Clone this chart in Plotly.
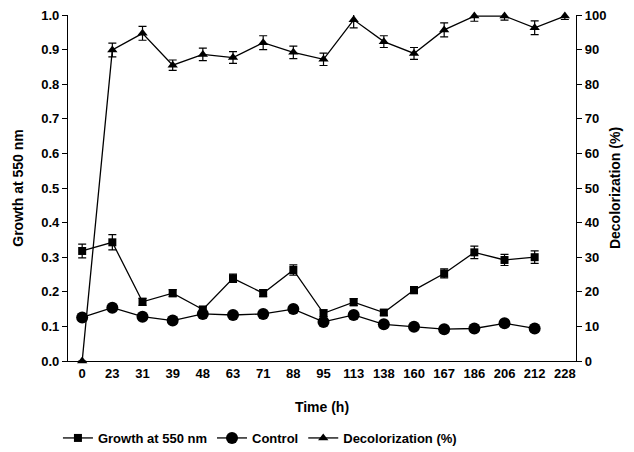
import plotly.graph_objects as go

time_labels = ["0", "23", "31", "39", "48", "63", "71", "88", "95", "113", "138",
               "160", "167", "186", "206", "212", "228"]

growth = [0.318, 0.343, 0.171, 0.196, 0.149, 0.239, 0.196, 0.263, 0.138, 0.170,
          0.140, 0.205, 0.253, 0.314, 0.292, 0.300]
growth_err = [0.020, 0.022, 0.010, 0.010, 0.008, 0.012, 0.010, 0.015, 0.010, 0.010,
              0.008, 0.010, 0.013, 0.018, 0.016, 0.018]

control = [0.126, 0.154, 0.128, 0.117, 0.136, 0.133, 0.136, 0.150, 0.113, 0.133,
           0.106, 0.099, 0.092, 0.094, 0.109, 0.094]
control_err = [0.004] * 16

decol = [0, 89.9, 94.7, 85.5, 88.6, 87.7, 92.0, 89.2, 87.2, 98.6, 92.3, 88.9,
         95.7, 99.7, 99.7, 96.3, 99.7]
decol_err = [0, 2.0, 2.0, 1.5, 1.8, 1.7, 2.0, 1.8, 1.8, 2.3, 1.7, 1.7, 2.0, 1.5,
             1.2, 2.0, 1.0]

FONT = "Liberation Sans, Arial, sans-serif"
xs = list(range(len(time_labels)))

fig = go.Figure()
fig.add_trace(go.Scatter(
    x=xs[:len(growth)], y=growth, name="Growth at 550 nm", mode="lines+markers",
    line=dict(color="black", width=1.3), cliponaxis=False,
    marker=dict(symbol="square", size=8, color="black"),
    error_y=dict(type="data", array=growth_err, color="black", thickness=1.2, width=4),
))
fig.add_trace(go.Scatter(
    x=xs[:len(control)], y=control, name="Control", mode="lines+markers",
    line=dict(color="black", width=1.3), cliponaxis=False,
    marker=dict(symbol="circle", size=12, color="black"),
    error_y=dict(type="data", array=control_err, color="black", thickness=1.2, width=4),
))
fig.add_trace(go.Scatter(
    x=xs[:len(decol)], y=decol, name="Decolorization (%)", mode="lines+markers",
    yaxis="y2", cliponaxis=False,
    line=dict(color="black", width=1.3),
    marker=dict(symbol="triangle-up", size=9, color="black"),
    error_y=dict(type="data", array=decol_err, color="black", thickness=1.2, width=4),
))

axis_font = dict(family=FONT, size=13, color="black", weight="bold")
title_font = dict(family=FONT, size=14, color="black", weight="bold")

fig.update_layout(
    width=634, height=452,
    margin=dict(l=68, r=58, t=15, b=91, autoexpand=False),
    paper_bgcolor="white", plot_bgcolor="white",
    showlegend=True,
    legend=dict(orientation="h", x=0.41, xanchor="center", xref="container",
                y=0.031, yanchor="middle", yref="container",
                font=dict(family=FONT, size=13, color="black", weight="bold"),
                itemwidth=30, tracegroupgap=0),
    xaxis=dict(
        tickmode="array", tickvals=xs, ticktext=time_labels, automargin=False,
        range=[-0.47, 16.37], showgrid=False, zeroline=False,
        showline=True, linecolor="black", linewidth=1.3, ticks="",
        tickfont=axis_font,
        title=dict(text="Time (h)", font=title_font, standoff=22),
    ),
    yaxis=dict(
        range=[0, 1.0], tickvals=[i / 10 for i in range(11)], automargin=False,
        ticktext=[f"{i/10:.1f}" for i in range(11)],
        showgrid=False, zeroline=False, showline=True, linecolor="black", linewidth=1.3,
        ticks="outside", ticklen=5, tickcolor="black", tickwidth=1.3,
        tickfont=axis_font,
        title=dict(text="Growth at 550 nm", font=title_font, standoff=14),
    ),
    yaxis2=dict(
        range=[0, 100], tickvals=list(range(0, 101, 10)), overlaying="y", side="right",
        automargin=False,
        showgrid=False, zeroline=False, showline=True, linecolor="black", linewidth=1.3,
        ticks="outside", ticklen=5, tickcolor="black", tickwidth=1.3,
        tickfont=axis_font,
        title=dict(text="Decolorization (%)", font=title_font, standoff=4),
    ),
)

fig.write_html("out.html", config={"displayModeBar": False},
               post_script="document.body.style.margin='0px';document.body.style.overflow='hidden';")
